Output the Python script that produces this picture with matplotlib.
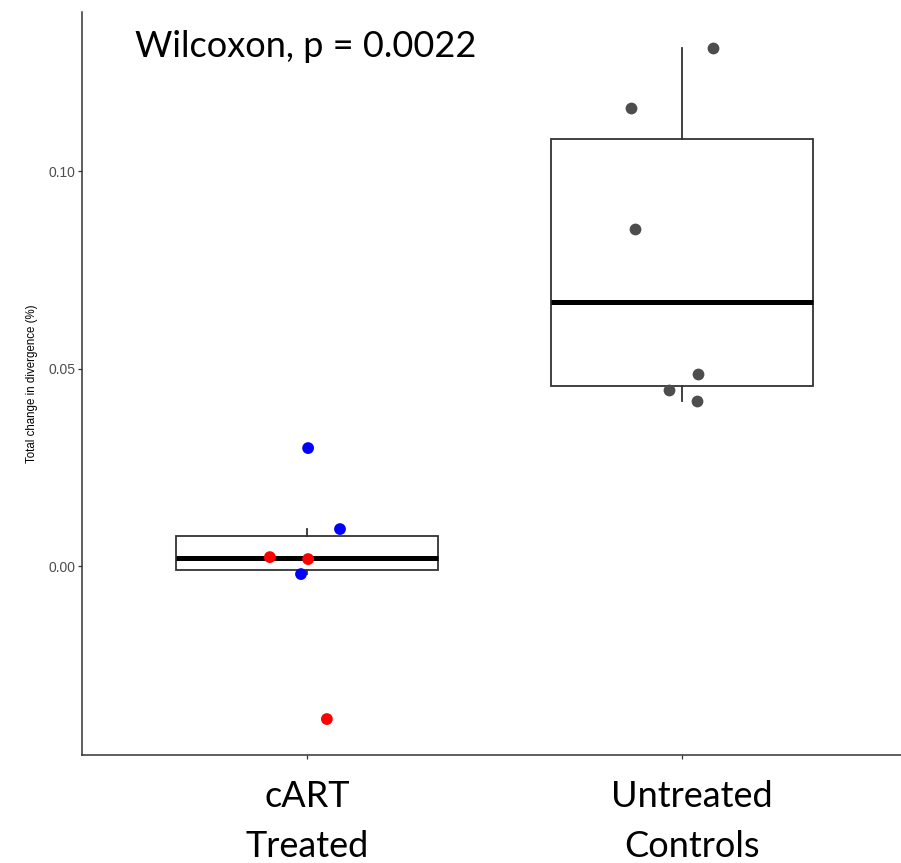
import matplotlib
matplotlib.use('Agg')
import matplotlib.pyplot as plt

# per-subject change in divergence, with jittered x positions
groups = [('cART', 'Treated'), ('Untreated', 'Controls')]
cart_vals = [0.0094, 0.0299, 0.0023, 0.0018, -0.0020, -0.0387]
cart_x = [1.088, 1.003, 0.901, 1.003, 0.984, 1.053]
cart_cols = ['#0000ff', '#0000ff', '#ff0000', '#ff0000', '#0000ff', '#ff0000']
ctrl_vals = [0.1311, 0.1159, 0.0853, 0.0486, 0.0446, 0.0418]
ctrl_x = [2.083, 1.864, 1.875, 2.043, 1.965, 2.040]
ctrl_col = '#4d4d4d'
p_text = 'Wilcoxon, p = 0.0022'

W, H = 901, 863
fig = plt.figure(figsize=(W / 100, H / 100), dpi=100)
ax = fig.add_axes([82 / W, (H - 755) / H, 819 / W, 743 / H])

ax.boxplot([cart_vals, ctrl_vals], positions=[1, 2], widths=0.7,
           showfliers=False, showcaps=False, patch_artist=True,
           boxprops=dict(facecolor='white', edgecolor='#333333', linewidth=1.3),
           whiskerprops=dict(color='#333333', linewidth=1.3),
           medianprops=dict(color='black', linewidth=3.6, solid_capstyle='butt'),
           zorder=1)

ax.scatter(cart_x, cart_vals, s=72, c=cart_cols, linewidths=0, zorder=3)
ax.scatter(ctrl_x, ctrl_vals, s=72, c=ctrl_col, linewidths=0, zorder=3)

ax.set_xlim(0.4, 0.4 + 819 / 375)
ax.set_ylim(-0.0478, 0.1403)
ax.set_yticks([0.0, 0.05, 0.10])
ax.set_yticklabels(['0.00', '0.05', '0.10'])
ax.set_xticks([1, 2])
ax.set_xticklabels([])

for s in ['top', 'right']:
    ax.spines[s].set_visible(False)
for s in ['left', 'bottom']:
    ax.spines[s].set_color('#333333')
    ax.spines[s].set_linewidth(1.1)
ax.tick_params(axis='both', length=3, width=0.9, color='#333333')
ax.tick_params(axis='y', labelsize=10, labelcolor='#4d4d4d', pad=2)
for lab in ax.get_yticklabels():
    lab.set_family('Liberation Sans')

ax.set_ylabel('Total change in divergence (%)', fontsize=8.3,
              family='Liberation Sans', labelpad=7)

# slide-style group labels under the axis (two lines each)
label_x = [307, 692]
for xpx, (top, bottom) in zip(label_x, groups):
    fig.text(xpx / W, 1 - 807 / H, top, ha='center', va='baseline',
             fontsize=26, family='Lato')
    fig.text(xpx / W, 1 - 857 / H, bottom, ha='center', va='baseline',
             fontsize=26, family='Lato')

fig.text(135 / W, 1 - 57 / H, p_text, ha='left', va='baseline',
         fontsize=26, family='Lato')

fig.savefig('out.png', dpi=100)
